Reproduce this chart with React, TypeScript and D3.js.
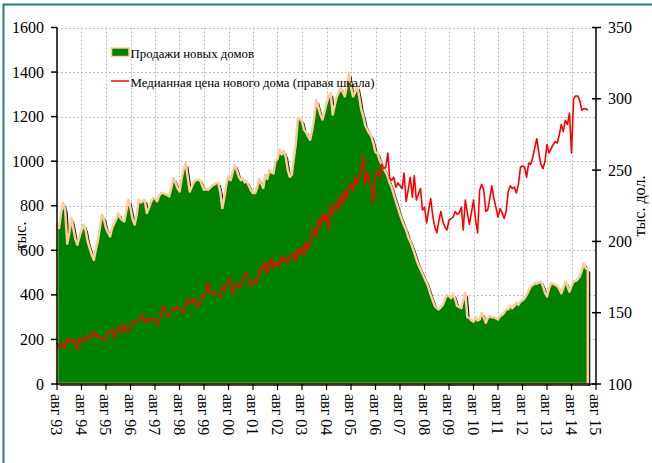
import React from 'react';
import * as d3 from 'd3';

// Monthly data starting Aug 1993 through Apr 2015
const startDate = new Date(1993, 7, 1);

// New home sales, thousands (SAAR)
const sales = [
  720, 700, 770, 812, 780,
  630, 680, 745, 700, 650, 625, 660, 690, 715, 690, 640, 610,
  580, 557, 600, 640, 700, 760, 740, 700, 680, 662, 700, 720,
  740, 767, 745, 735, 730, 780, 827, 790, 740, 715, 760, 827,
  815, 820, 827, 767, 790, 815, 834, 834, 820, 845, 857, 857,
  852, 848, 842, 880, 924, 905, 880, 864, 920, 965, 991, 930,
  864, 885, 905, 915, 917, 917, 895, 872, 875, 872, 880, 890,
  895, 902, 902, 860, 790, 840, 900, 932, 915, 950, 984, 960,
  930, 915, 925, 905, 909, 890, 870, 857, 857, 880, 920, 900,
  880, 940, 920, 960, 950, 945, 1000, 1010, 1052, 1030, 1045, 1021,
  960, 930, 939, 1010, 1080, 1194, 1190, 1179, 1140, 1130, 1110, 1096,
  1140, 1200, 1276, 1240, 1210, 1187, 1220, 1260, 1290, 1306, 1209, 1250,
  1290, 1310, 1328, 1310, 1291, 1340, 1396, 1330, 1291, 1310, 1336, 1290,
  1231, 1200, 1160, 1141, 1125, 1111, 1080, 1040, 1036, 1006, 985, 970,
  950, 930, 903, 880, 850, 820, 790, 760, 735, 710, 690, 660,
  640, 616, 590, 560, 535, 515, 495, 475, 455, 430, 400, 375,
  350, 340, 335, 345, 355, 380, 400, 395, 385, 405, 380, 350,
  345, 340, 380, 410, 300, 295, 285, 280, 300, 285, 290, 320,
  300, 275, 295, 305, 300, 300, 295, 290, 305, 310, 320, 335,
  335, 350, 340, 350, 365, 355, 370, 375, 385, 400, 420, 437,
  445, 452, 450, 455, 460, 440, 410, 393, 430, 452, 450, 445,
  440, 425, 407, 430, 460, 440, 415, 440, 460, 462, 470, 482,
  510, 542, 520, 512,
];

// Median new home price, thousand $
const price = [
  129, 125, 128, 129, 125,
  131, 132, 129, 131, 130, 124, 132, 131, 129, 134, 132, 131,
  136, 137, 133, 134, 133, 133, 130, 133, 136, 137, 138, 132,
  137, 140, 138, 136, 142, 137, 137, 141, 144, 143, 143, 145,
  146, 149, 144, 143, 146, 145, 146, 145, 141, 145, 147, 155,
  151, 148, 147, 151, 153, 152, 154, 153, 152, 150, 155, 160,
  158, 156, 160, 158, 154, 158, 162, 161, 165, 171, 163, 164,
  165, 163, 162, 161, 168, 166, 170, 174, 172, 163, 168, 171,
  168, 168, 172, 176, 178, 172, 168, 172, 173, 171, 178, 182,
  180, 186, 178, 183, 188, 181, 186, 184, 182, 190, 186, 188,
  185, 190, 189, 192, 186, 195, 191, 196, 190, 200, 194, 199,
  205, 210, 203, 215, 211, 220, 214, 219, 208, 226, 219, 222,
  228, 222, 233, 226, 236, 230, 238, 241, 235, 245, 240, 246,
  250, 260, 240, 248, 243, 238, 227, 246, 250, 245, 254, 251,
  252, 262, 244, 243, 245, 238, 241, 239, 237, 248, 228, 236,
  245, 231, 246, 229, 233, 237, 222, 224, 213, 222, 230, 218,
  210, 206, 214, 221, 214, 210, 208, 215, 216, 217, 221, 219,
  220, 224, 208, 229, 220, 212, 220, 229, 215, 206, 236, 240,
  236, 221, 222, 230, 239, 230, 224, 217, 223, 220, 216, 221,
  235, 239, 237, 238, 234, 240, 252, 253, 252, 245, 255, 254,
  259, 266, 272, 262, 254, 251, 256, 268, 262, 265, 268, 270,
  269, 275, 282, 277, 285, 282, 290, 262, 300, 302, 302, 299,
  292, 293, 293, 292,
];

const xTickLabels = [
  'авг 93', 'авг 94', 'авг 95', 'авг 96', 'авг 97', 'авг 98', 'авг 99', 'авг 00',
  'авг 01', 'авг 02', 'авг 03', 'авг 04', 'авг 05', 'авг 06', 'авг 07', 'авг 08',
  'авг 09', 'авг 10', 'авг 11', 'авг 12', 'авг 13', 'авг 14', 'авг 15',
];
const leftTicks = [0, 200, 400, 600, 800, 1000, 1200, 1400, 1600];
const rightTicks = [100, 150, 200, 250, 300, 350];

const legendSales = 'Продажи новых домов';
const legendPrice = 'Медианная цена нового дома (правая шкала)';

const FONT = '"Liberation Serif", "Times New Roman", serif';

export default function App() {
  const W = 652, H = 463;
  const left = 57, right = 596, top = 27.5, bottom = 384;

  const dates = sales.map((_, i) => d3.timeMonth.offset(startDate, i));
  const tickDates = xTickLabels.map((_, i) => d3.timeYear.offset(startDate, i));

  const x = d3.scaleTime().domain([tickDates[0], tickDates[tickDates.length - 1]]).range([left, right]);
  const yL = d3.scaleLinear().domain([0, 1600]).range([bottom, top]);
  const yR = d3.scaleLinear().domain([100, 350]).range([bottom, top]);

  const area = d3.area<number>()
    .x((_, i) => x(dates[i]))
    .y0(yL(0))
    .y1((d) => yL(d));
  const line = d3.line<number>()
    .x((_, i) => x(dates[i]))
    .y((d) => yR(d));

  const areaPath = area(sales) || '';
  const linePath = line(price) || '';
  const ts = { fontFamily: FONT };

  return (
    <svg width={W} height={H} style={{ position: 'absolute', left: 0, top: 0, background: '#fff', fontFamily: FONT }}>
      {/* frame */}
      <rect x={3.5} y={4.5} width={700} height={600} fill="none" stroke="#1f7f7f" strokeWidth={2} />

      {/* grid */}
      <g stroke="#c0c0c0" strokeWidth={1} strokeDasharray="2,2">
        {leftTicks.filter((t) => t > 0).map((t) => (
          <line key={'h' + t} x1={left} x2={right} y1={Math.round(yL(t)) + 0.5} y2={Math.round(yL(t)) + 0.5} />
        ))}
        {tickDates.slice(1, -1).map((d, i) => (
          <line key={'v' + i} x1={Math.round(x(d)) + 0.5} x2={Math.round(x(d)) + 0.5} y1={top} y2={bottom} />
        ))}
      </g>

      {/* area with shadow */}
      <path d={areaPath} fill="#1a1a1a" transform="translate(2.5,2)" />
      <path d={areaPath} fill="#008000" stroke="#ffcc99" strokeWidth={2.5} strokeLinejoin="round" />

      {/* price line */}
      <path d={linePath} fill="none" stroke="#ff0000" strokeWidth={1.6} strokeLinejoin="round" />

      {/* axes */}
      <g stroke="#000" strokeWidth={1.5}>
        <line x1={left} x2={left} y1={top} y2={bottom} />
        <line x1={right} x2={right} y1={top} y2={bottom} />
        <line x1={left} x2={right} y1={bottom} y2={bottom} />
        {leftTicks.map((t) => (
          <line key={'lt' + t} x1={left - 6} x2={left} y1={yL(t)} y2={yL(t)} />
        ))}
        {rightTicks.map((t) => (
          <line key={'rt' + t} x1={right - 4} x2={right + 5} y1={yR(t)} y2={yR(t)} />
        ))}
        {tickDates.map((d, i) => (
          <line key={'xt' + i} x1={x(d)} x2={x(d)} y1={bottom} y2={bottom + 6} strokeWidth={1.2} />
        ))}
      </g>

      {/* tick labels */}
      <g fontSize={16} fill="#000">
        {leftTicks.map((t) => (
          <text key={'ll' + t} style={ts} x={44} y={yL(t)} dy="0.35em" textAnchor="end">{t}</text>
        ))}
        {rightTicks.map((t) => (
          <text key={'rl' + t} style={ts} x={608} y={yR(t)} dy="0.35em" textAnchor="start">{t}</text>
        ))}
        {tickDates.map((d, i) => (
          <text key={'xl' + i} style={ts} transform={`translate(${x(d)},${bottom + 10}) rotate(90)`} dy="0.35em" textAnchor="start">
            {xTickLabels[i]}
          </text>
        ))}
      </g>

      {/* axis titles */}
      <text style={ts} transform="translate(20,236) rotate(-90)" fontSize={16} textAnchor="middle" dy="0.35em">тыс.</text>
      <text style={ts} transform="translate(639,206) rotate(-90)" fontSize={16} textAnchor="middle" dy="0.35em">тыс. дол.</text>

      {/* legend */}
      <rect x={111.5} y={48} width={17.5} height={8.5} fill="#008000" stroke="#ffcc99" strokeWidth={1.5} />
      <text style={ts} x={130.5} y={58} fontSize={12.8}>{legendSales}</text>
      <line x1={111} x2={129} y1={81} y2={81} stroke="#ff0000" strokeWidth={1.5} />
      <text style={ts} x={130.5} y={87} fontSize={12.8}>{legendPrice}</text>
    </svg>
  );
}
